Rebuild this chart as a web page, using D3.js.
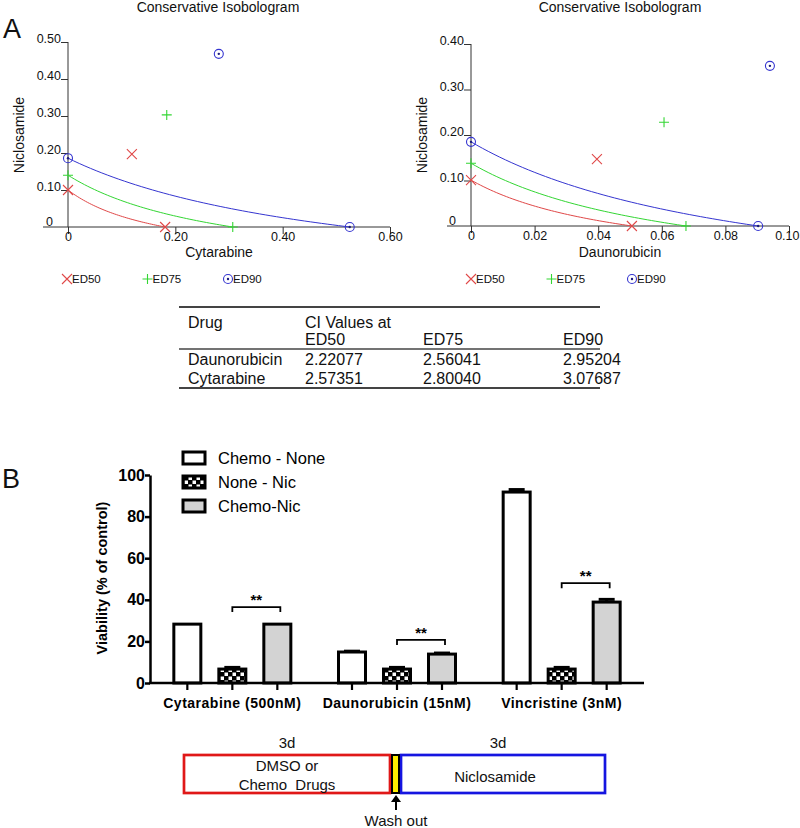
<!DOCTYPE html>
<html><head><meta charset="utf-8">
<script src="https://cdn.jsdelivr.net/npm/d3@7"></script>
<style>
body{margin:0;background:#fff;}
svg{display:block;font-family:"Liberation Sans",Arial,sans-serif;}
</style></head>
<body>
<svg id="c" width="800" height="828"></svg>
<script>
// ---------- Data ----------
const doseLevels = ["ED50", "ED75", "ED90"];
const doseColors = ["#e04848", "#33d633", "#3535d0"];
// Cytarabine isobologram
const cytNicIntercept = [0.100, 0.140, 0.186];
const cytDrugIntercept = [0.181, 0.307, 0.525];
const cytComboX = [0.119, 0.184, 0.281];
const cytComboY = [0.197, 0.303, 0.468];
const cytXTicks = [0, 0.20, 0.40, 0.60];
const cytYTicks = [0.10, 0.20, 0.30, 0.40, 0.50];
// Daunorubicin isobologram
const dauNicIntercept = [0.101, 0.138, 0.185];
const dauDrugIntercept = [0.0506, 0.0676, 0.0903];
const dauComboX = [0.0396, 0.0607, 0.094];
const dauComboY = [0.147, 0.228, 0.352];
const dauXTicks = [0, 0.02, 0.04, 0.06, 0.08, 0.10];
const dauYTicks = [0.10, 0.20, 0.30, 0.40];
// CI table
const tableDrugs = ["Daunorubicin", "Cytarabine"];
const ciED50 = ["2.22077", "2.57351"];
const ciED75 = ["2.56041", "2.80040"];
const ciED90 = ["2.95204", "3.07687"];
// Bar chart
const barGroups = ["Cytarabine (500nM)", "Daunorubicin (15nM)", "Vincristine (3nM)"];
const barSeries = ["Chemo - None", "None - Nic", "Chemo-Nic"];
const chemoNone = [28.3, 14.9, 91.8];
const noneNic = [6.7, 6.7, 6.7];
const chemoNic = [28.3, 13.9, 38.9];
const chemoNoneErr = [0, 0.4, 1.2];
const noneNicErr = [0.8, 0.8, 0.8];
const chemoNicErr = [0, 0.5, 1.3];
const sigLevel = [36.5, 20.7, 48];
const sigLabel = ["**", "**", "**"];
const barYTicks = [0, 20, 40, 60, 80, 100];

const svg = d3.select("#c");
const FONT = '"Liberation Sans",Arial,sans-serif';

// ---------- Markers ----------
function drawMarker(g, type, x, y, color) {
  if (type === 0) {
    g.append("path").attr("d", `M${x-5},${y-5}L${x+5},${y+5}M${x-5},${y+5}L${x+5},${y-5}`)
      .attr("stroke", color).attr("stroke-width", 1.1).attr("fill", "none");
  } else if (type === 1) {
    g.append("path").attr("d", `M${x-5},${y}L${x+5},${y}M${x},${y-5}L${x},${y+5}`)
      .attr("stroke", color).attr("stroke-width", 1.1).attr("fill", "none");
  } else {
    g.append("circle").attr("cx", x).attr("cy", y).attr("r", 4.5)
      .attr("stroke", color).attr("stroke-width", 1.1).attr("fill", "none");
    g.append("circle").attr("cx", x).attr("cy", y).attr("r", 1.2).attr("fill", "#1a1a80");
  }
}

// ---------- Isobologram ----------
function isobologram(opt) {
  const g = svg.append("g");
  const x = d3.scaleLinear().domain([0, opt.xMax]).range(opt.xRange);
  const y = d3.scaleLinear().domain([0, opt.yMax]).range(opt.yRange);
  const axisCol = "#333";
  g.append("text").attr("x", opt.titleX).attr("y", 12).attr("text-anchor", "middle")
    .attr("font-size", 14).attr("fill", "#111").text("Conservative Isobologram");
  g.append("line").attr("x1", opt.xAxisStart).attr("x2", x(opt.xMax))
    .attr("y1", y(0)).attr("y2", y(0)).attr("stroke", axisCol).attr("stroke-width", 1);
  g.append("line").attr("x1", x(0)).attr("x2", x(0))
    .attr("y1", y(opt.yMax)).attr("y2", y(0)).attr("stroke", axisCol).attr("stroke-width", 1);
  const yt = g.append("g").attr("transform", `translate(${x(0)},0)`)
    .call(d3.axisLeft(y).tickValues(opt.yTicks).tickSize(7).tickSizeOuter(0).tickFormat(d3.format(".2f")));
  yt.select(".domain").remove();
  yt.selectAll("line").attr("stroke", axisCol);
  yt.selectAll("text").attr("font-size", 12.5).attr("font-family", FONT).attr("dy", "0.05em").attr("x", -7).attr("fill", "#111");
  g.append("text").attr("x", x(0) - 15).attr("y", y(0) - 1).attr("text-anchor", "end")
    .attr("font-size", 12.5).attr("fill", "#111").text("0");
  const xt = g.append("g").attr("transform", `translate(0,${y(0)})`)
    .call(d3.axisBottom(x).tickValues(opt.xTicks).tickSize(7).tickSizeOuter(0)
      .tickFormat(d => d === 0 ? "0" : d3.format(".2f")(d)));
  xt.select(".domain").remove();
  xt.selectAll("line").attr("stroke", axisCol);
  xt.selectAll("text").attr("font-size", 12.5).attr("font-family", FONT).attr("y", 5).attr("dy", "0.71em").attr("fill", "#111");
  if (opt.lastTickEnd) {
    xt.selectAll("text").filter(d => d === opt.xMax).attr("text-anchor", "end").attr("x", 799 - x(opt.xMax));
  }
  g.append("text").attr("transform", `translate(${opt.yLabelX},135) rotate(-90)`)
    .attr("text-anchor", "middle").attr("font-size", 14).attr("fill", "#111").text("Niclosamide");
  g.append("text").attr("x", opt.xLabelX).attr("y", 257).attr("text-anchor", "middle")
    .attr("font-size", 14).attr("fill", "#111").text(opt.xLabel);
  // isobole curves through the two single-drug intercepts
  const line = d3.line().x(d => x(d[0])).y(d => y(d[1]));
  doseLevels.forEach((lvl, i) => {
    const a = opt.nic[i], b = opt.drug[i];
    const pts = d3.range(0, 1.0001, 0.02).map(t => [t * b, a * (1 - t) / (1 + t)]);
    g.append("path").datum(pts).attr("d", line).attr("fill", "none")
      .attr("stroke", doseColors[i]).attr("stroke-width", 1);
  });
  doseLevels.forEach((lvl, i) => {
    drawMarker(g, i, x(0), y(opt.nic[i]), doseColors[i]);
    drawMarker(g, i, x(opt.drug[i]), y(0), doseColors[i]);
    drawMarker(g, i, x(opt.cx[i]), y(opt.cy[i]), doseColors[i]);
  });
  doseLevels.forEach((lvl, i) => {
    const lx = opt.legendX + i * 80.5;
    drawMarker(g, i, lx, 279, doseColors[i]);
    g.append("text").attr("x", lx + 5).attr("y", 283).attr("font-size", 11.5).attr("fill", "#111").text(lvl);
  });
}

isobologram({xMax: 0.6, yMax: 0.5, xRange: [68, 390], yRange: [227, 42], xAxisStart: 43,
  xTicks: cytXTicks, yTicks: cytYTicks, titleX: 218, yLabelX: 24, xLabelX: 219, xLabel: "Cytarabine",
  nic: cytNicIntercept, drug: cytDrugIntercept, cx: cytComboX, cy: cytComboY, legendX: 67});
isobologram({xMax: 0.1, yMax: 0.4, xRange: [471, 789], yRange: [226, 44], xAxisStart: 447,
  xTicks: dauXTicks, yTicks: dauYTicks, titleX: 620, yLabelX: 427, xLabelX: 620, xLabel: "Daunorubicin",
  nic: dauNicIntercept, drug: dauDrugIntercept, cx: dauComboX, cy: dauComboY, legendX: 471, lastTickEnd: true});

svg.append("text").attr("x", 3).attr("y", 38).attr("font-size", 27).attr("fill", "#111").text("A");
svg.append("text").attr("x", 2).attr("y", 488).attr("font-size", 27).attr("fill", "#111").text("B");

// ---------- Table ----------
const tg = svg.append("g").attr("font-size", 16).attr("fill", "#111");
[307, 349, 388].forEach(yy => tg.append("line").attr("x1", 179).attr("x2", 600)
  .attr("y1", yy).attr("y2", yy).attr("stroke", "#444").attr("stroke-width", yy === 349 ? 1.5 : 2));
tg.append("text").attr("x", 188).attr("y", 328).text("Drug");
tg.append("text").attr("x", 305).attr("y", 328).text("CI Values at");
const colX = [305, 423, 563];
doseLevels.forEach((lvl, i) => tg.append("text").attr("x", colX[i]).attr("y", 345).text(lvl));
tableDrugs.forEach((d, r) => {
  const yy = 365 + r * 19;
  tg.append("text").attr("x", 188).attr("y", yy).text(d);
  [ciED50, ciED75, ciED90].forEach((col, i) => tg.append("text").attr("x", colX[i]).attr("y", yy).text(col[r]));
});

// ---------- Bar chart ----------
const defs = svg.append("defs");
const pat = defs.append("pattern").attr("id", "checker").attr("patternUnits", "userSpaceOnUse")
  .attr("width", 8).attr("height", 8);
pat.append("rect").attr("width", 8).attr("height", 8).attr("fill", "#000");
pat.append("rect").attr("x", 0.5).attr("y", 0.5).attr("width", 3.5).attr("height", 3.5).attr("fill", "#fff");
pat.append("rect").attr("x", 4.5).attr("y", 4.5).attr("width", 3.5).attr("height", 3.5).attr("fill", "#fff");
const fills = ["#fff", "url(#checker)", "#d3d3d3"];

const bx0 = d3.scaleBand().domain(barGroups).range([150, 644]).padding(0);
const bx1 = d3.scaleBand().domain(barSeries).range([0, 135]).paddingInner(1/3).paddingOuter(1/6);
const by = d3.scaleLinear().domain([0, 100]).range([683, 475]);
const off = (bx0.bandwidth() - 135) / 2;
const center = (gi, si) => bx0(barGroups[gi]) + off + bx1(barSeries[si]) + bx1.bandwidth() / 2;
const bg = svg.append("g");
const values = [chemoNone, noneNic, chemoNic];
const errs = [chemoNoneErr, noneNicErr, chemoNicErr];
const bw = 27;
barGroups.forEach((grp, gi) => {
  barSeries.forEach((s, si) => {
    const cx = center(gi, si), v = values[si][gi], e = errs[si][gi];
    if (e > 0) {
      bg.append("line").attr("x1", cx).attr("x2", cx).attr("y1", by(v)).attr("y2", by(v + e))
        .attr("stroke", "#000").attr("stroke-width", 3);
      bg.append("line").attr("x1", cx - 8).attr("x2", cx + 8).attr("y1", by(v + e)).attr("y2", by(v + e))
        .attr("stroke", "#000").attr("stroke-width", 3);
    }
    bg.append("rect").attr("x", cx - bw / 2).attr("y", by(v)).attr("width", bw)
      .attr("height", by(0) - by(v)).attr("fill", fills[si]).attr("stroke", "#000").attr("stroke-width", 3);
  });
  const x1 = center(gi, 1), x2 = center(gi, 2) + 3, yy = by(sigLevel[gi]);
  bg.append("path").attr("d", `M${x1},${yy + 5}V${yy}H${x2}V${yy + 5}`).attr("fill", "none")
    .attr("stroke", "#000").attr("stroke-width", 1.8);
  bg.append("text").attr("x", (x1 + x2) / 2).attr("y", yy - 2).attr("text-anchor", "middle")
    .attr("font-size", 15).attr("font-weight", "bold").attr("fill", "#000").text(sigLabel[gi]);
});
const yAx = svg.append("g").attr("transform", "translate(150,0)")
  .call(d3.axisLeft(by).tickValues(barYTicks).tickSize(5).tickSizeOuter(0));
yAx.select(".domain").attr("stroke-width", 2.5);
yAx.selectAll("line").attr("stroke-width", 2.5);
yAx.selectAll("text").attr("font-size", 16).attr("font-weight", "bold").attr("font-family", FONT)
  .attr("x", -5).attr("fill", "#000");
svg.append("line").attr("x1", 149).attr("x2", 644).attr("y1", by(0)).attr("y2", by(0))
  .attr("stroke", "#000").attr("stroke-width", 2.5);
barGroups.forEach((grp, gi) => {
  barSeries.forEach((s, si) => {
    const cx = center(gi, si);
    svg.append("line").attr("x1", cx).attr("x2", cx).attr("y1", by(0)).attr("y2", by(0) + 7)
      .attr("stroke", "#000").attr("stroke-width", 2.2);
  });
  svg.append("text").attr("x", bx0(grp) + bx0.bandwidth() / 2).attr("y", 708).attr("text-anchor", "middle")
    .attr("font-size", 14).attr("font-weight", "bold").attr("letter-spacing", 0.5).attr("fill", "#000").text(grp);
});
svg.append("text").attr("transform", "translate(107,578) rotate(-90)").attr("text-anchor", "middle")
  .attr("font-size", 14.5).attr("font-weight", "bold").attr("fill", "#000").text("Viability (% of control)");
barSeries.forEach((s, si) => {
  const ly = 452 + si * 24;
  svg.append("rect").attr("x", 183).attr("y", ly).attr("width", 22).attr("height", 12)
    .attr("fill", fills[si]).attr("stroke", "#000").attr("stroke-width", 3);
  svg.append("text").attr("x", 218).attr("y", ly + 12).attr("font-size", 16.5).attr("fill", "#000").text(s);
});

// ---------- Timeline diagram ----------
const dg = svg.append("g").attr("font-size", 15).attr("fill", "#111");
dg.append("rect").attr("x", 184).attr("y", 755).attr("width", 206).attr("height", 38)
  .attr("fill", "#fff").attr("stroke", "#e01818").attr("stroke-width", 2.7);
dg.append("rect").attr("x", 401).attr("y", 755).attr("width", 204).attr("height", 38)
  .attr("fill", "#fff").attr("stroke", "#1515e0").attr("stroke-width", 2.7);
dg.append("rect").attr("x", 392).attr("y", 755).attr("width", 7).attr("height", 38)
  .attr("fill", "#ffee00").attr("stroke", "#000").attr("stroke-width", 2);
dg.append("text").attr("x", 287).attr("y", 748).attr("text-anchor", "middle").text("3d");
dg.append("text").attr("x", 498).attr("y", 748).attr("text-anchor", "middle").text("3d");
dg.append("text").attr("x", 287).attr("y", 771).attr("text-anchor", "middle").text("DMSO or");
dg.append("text").attr("x", 287).attr("y", 790).attr("text-anchor", "middle").attr("xml:space", "preserve").text("Chemo  Drugs");
dg.append("text").attr("x", 495).attr("y", 782).attr("text-anchor", "middle").text("Niclosamide");
dg.append("line").attr("x1", 396).attr("x2", 396).attr("y1", 810).attr("y2", 800)
  .attr("stroke", "#000").attr("stroke-width", 2);
dg.append("path").attr("d", "M391,802L396,795L401,802Z").attr("fill", "#000");
dg.append("text").attr("x", 396).attr("y", 826).attr("text-anchor", "middle").text("Wash out");
</script>
</body></html>
